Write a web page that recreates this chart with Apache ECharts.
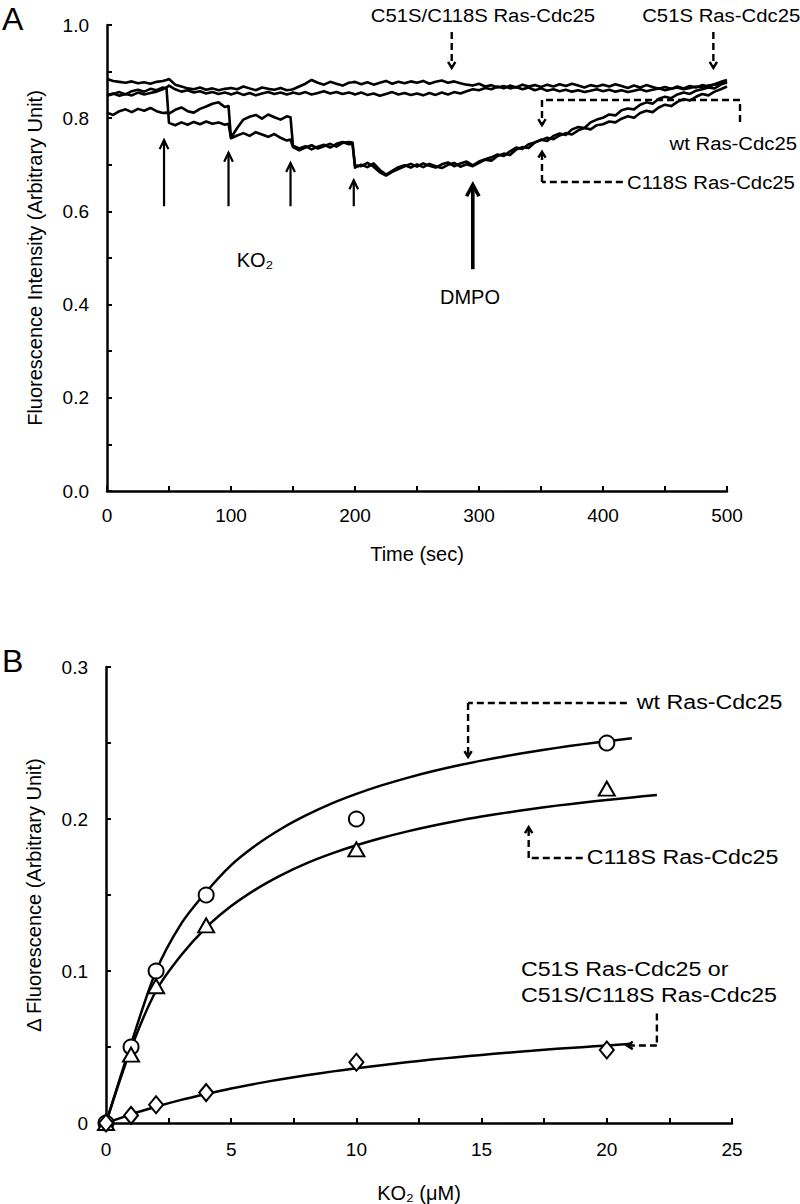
<!DOCTYPE html>
<html>
<head>
<meta charset="utf-8">
<script src="https://cdn.jsdelivr.net/npm/echarts@6/dist/echarts.min.js"></script>
<style>
html,body{margin:0;padding:0;background:#fff;}
#chart{width:800px;height:1204px;}
</style>
</head>
<body>
<div id="chart"></div>
<script>
// ---------------- Panel A data (time in s, fluorescence in arbitrary units) ----------------
const timeA = [0,5,10,15,20,25,30,35,40,45,48,50,55,60,65,70,75,80,85,90,95,98,
  100,105,110,115,120,125,130,135,140,145,148,150,155,160,165,170,175,180,185,190,195,198,
  200,205,210,215,220,225,230,235,240,245,250,255,260,265,270,275,280,285,290,295,
  300,305,310,315,320,325,330,335,340,345,350,355,360,365,370,375,380,385,390,395,
  400,405,410,415,420,425,430,435,440,445,450,455,460,465,470,475,480,485,490,495,500];

const c51sC118sA = [0.884,0.880,0.878,0.876,0.879,0.875,0.877,0.874,0.878,0.880,0.882,
  0.884,0.872,0.868,0.864,0.862,0.866,0.861,0.864,0.860,0.863,0.864,
  0.865,0.862,0.868,0.864,0.860,0.866,0.863,0.861,0.865,0.860,0.861,
  0.862,0.868,0.874,0.882,0.876,0.872,0.878,0.874,0.870,0.876,0.877,
  0.878,0.873,0.877,0.872,0.876,0.880,0.874,0.878,0.875,0.879,
  0.876,0.880,0.874,0.878,0.881,0.876,0.879,0.875,0.872,0.870,
  0.874,0.868,0.871,0.866,0.869,0.864,0.867,0.862,0.866,0.860,
  0.864,0.859,0.862,0.858,0.861,0.857,0.860,0.856,0.859,0.862,
  0.858,0.861,0.857,0.860,0.856,0.859,0.862,0.858,0.861,0.864,
  0.860,0.863,0.866,0.862,0.865,0.868,0.866,0.870,0.872,0.874,0.876];

const c51sA = [0.850,0.853,0.848,0.852,0.849,0.855,0.851,0.854,0.857,0.862,0.866,
  0.870,0.862,0.857,0.860,0.855,0.858,0.853,0.856,0.852,0.855,0.853,
  0.851,0.855,0.850,0.854,0.849,0.853,0.856,0.852,0.855,0.851,0.853,
  0.855,0.852,0.856,0.851,0.854,0.858,0.853,0.856,0.852,0.855,0.853,
  0.851,0.855,0.850,0.853,0.848,0.852,0.856,0.851,0.854,0.850,
  0.853,0.849,0.854,0.850,0.855,0.851,0.856,0.853,0.858,0.862,
  0.860,0.865,0.862,0.868,0.864,0.870,0.866,0.872,0.868,0.871,
  0.867,0.872,0.868,0.873,0.869,0.874,0.870,0.866,0.871,0.868,
  0.872,0.868,0.873,0.869,0.865,0.870,0.866,0.871,0.867,0.863,
  0.867,0.863,0.868,0.864,0.869,0.866,0.871,0.868,0.873,0.878,0.882];

const wtA = [0.848,0.852,0.856,0.851,0.858,0.861,0.857,0.863,0.860,0.866,0.864,
  0.790,0.785,0.791,0.786,0.792,0.787,0.793,0.788,0.791,0.786,0.788,
  0.757,0.763,0.768,0.762,0.770,0.765,0.760,0.766,0.758,0.752,0.754,
  0.738,0.731,0.737,0.742,0.735,0.740,0.745,0.739,0.747,0.749,0.748,
  0.694,0.700,0.695,0.703,0.689,0.679,0.687,0.695,0.699,0.694,
  0.701,0.695,0.702,0.697,0.693,0.700,0.704,0.696,0.701,0.697,
  0.704,0.711,0.709,0.719,0.724,0.721,0.733,0.738,0.736,0.748,
  0.754,0.751,0.762,0.767,0.764,0.776,0.781,0.779,0.791,0.797,
  0.801,0.808,0.806,0.817,0.821,0.819,0.829,0.834,0.831,0.842,
  0.846,0.843,0.851,0.855,0.852,0.859,0.862,0.866,0.864,0.872,0.878];

const c118sA = [0.812,0.807,0.815,0.819,0.813,0.820,0.816,0.822,0.815,0.811,0.812,
  0.810,0.818,0.823,0.815,0.812,0.820,0.825,0.831,0.834,0.824,0.826,
  0.758,0.779,0.797,0.803,0.807,0.799,0.808,0.802,0.797,0.804,0.802,
  0.741,0.735,0.740,0.733,0.739,0.743,0.737,0.745,0.749,0.744,0.745,
  0.699,0.697,0.704,0.696,0.684,0.677,0.685,0.691,0.697,0.702,
  0.696,0.703,0.698,0.694,0.701,0.705,0.697,0.703,0.707,0.699,
  0.707,0.712,0.716,0.722,0.719,0.729,0.737,0.734,0.744,0.748,
  0.753,0.758,0.755,0.763,0.768,0.765,0.774,0.779,0.776,0.785,
  0.787,0.793,0.791,0.799,0.804,0.801,0.811,0.816,0.813,0.823,
  0.829,0.826,0.835,0.841,0.838,0.846,0.852,0.849,0.857,0.862,0.868];

// KO2 addition arrows and DMPO arrow: [t, fromValue, t, toValue]
const ko2Arrows = [[46,0.611,46,0.753],[98,0.611,98,0.726],[148,0.611,148,0.704],[199,0.611,199,0.667]];
const dmpoArrows = [[295,0.476,295,0.657]];
// dashed leader paths (last point = arrow tip)
const leaderPathsA = [
  [[278,0.985],[278,0.908]],
  [[489,0.985],[489,0.908]],
  [[510.5,0.792],[510.5,0.839],[350.8,0.839],[350.8,0.785]],
  [[416,0.663],[350.8,0.663],[350.8,0.728]]
];
const labelTextA = ['C51S/C118S Ras-Cdc25','C51S Ras-Cdc25','wt Ras-Cdc25','C118S Ras-Cdc25'];
const labelPosA = [[212.7,1.021],[431.6,1.021],[556.5,0.747],[419.4,0.663]];
const labelAlignA = ['left','left','right','left'];
const noteTextA = ['KO₂','DMPO'];
const notePosA = [[119.4,0.496],[292.7,0.416]];

// ---------------- Panel B data (KO2 in µM, Δ fluorescence) ----------------
const ko2B = [0,1,2,4,10,20];
const wtB = [0,0.050,0.100,0.150,0.200,0.250];
const c118sB = [0,0.045,0.090,0.130,0.180,0.220];
const c51sB = [0,0.005,0.012,0.020,0.040,0.048];

// fitted curves
const fitWtX = [0,1,2,3,4,5,6,7,8,9,10,11,12,13,14,15,16,17,18,19,20,21];
const fitWtY = [0,0.052,0.100,0.131,0.152,0.1697,0.1829,0.1936,0.2025,0.2101,0.2165,0.2221,0.2269,0.2312,0.2350,0.2384,0.2415,0.2443,0.2468,0.2491,0.2512,0.2531];
const fitC118sX = [0,1,2,3,4,5,6,7,8,9,10,11,12,13,14,15,16,17,18,19,20,21,22];
const fitC118sY = [0,0.049,0.087,0.1104,0.1286,0.1427,0.1539,0.1631,0.1708,0.1772,0.1827,0.1875,0.1917,0.1954,0.1987,0.2016,0.2042,0.2066,0.2088,0.2107,0.2125,0.2142,0.2158];
const fitC51sX = [0,1,2,3,4,5,6,7,8,9,10,11,12,13,14,15,16,17,18,19,20,21];
const fitC51sY = [0,0.0057,0.0107,0.0152,0.0191,0.0227,0.0259,0.0288,0.0314,0.0338,0.0360,0.0380,0.0399,0.0417,0.0433,0.0448,0.0462,0.0475,0.0488,0.0499,0.0510,0.0521];

const leaderPathsB = [
  [[20.8,0.2763],[14.46,0.2763],[14.46,0.2408]],
  [[19.04,0.1743],[16.88,0.1743],[16.88,0.1947]],
  [[22.0,0.072],[22.0,0.051],[20.8,0.051]]
];
const labelTextB = ['wt Ras-Cdc25','C118S Ras-Cdc25','C51S Ras-Cdc25 or','C51S/C118S Ras-Cdc25'];
const labelPosB = [[21.2,0.2763],[19.2,0.1743],[16.57,0.1007],[16.57,0.084]];

// ---------------- helpers ----------------
const FONT = '"Liberation Sans", Arial, Helvetica, sans-serif';
const zip = (xs, ys) => xs.map((x, i) => [x, ys[i]]);
function pathsToSegments(paths) {
  const segs = [];
  paths.forEach(p => {
    for (let i = 0; i < p.length - 1; i++) {
      segs.push([p[i][0], p[i][1], p[i + 1][0], p[i + 1][1], i === p.length - 2 ? 1 : 0]);
    }
  });
  return segs;
}
function arrowRenderer(width, dash, arm, spread) {
  return function (params, api) {
    const a = api.coord([api.value(0), api.value(1)]);
    const b = api.coord([api.value(2), api.value(3)]);
    const kids = [{type: 'line', shape: {x1: a[0], y1: a[1], x2: b[0], y2: b[1]},
      style: {stroke: '#000', lineWidth: width, lineDash: dash, fill: null}}];
    if (api.value(4)) {
      const dx = b[0] - a[0], dy = b[1] - a[1], L = Math.hypot(dx, dy) || 1;
      const ux = dx / L, uy = dy / L, c = Math.cos(spread), s = Math.sin(spread);
      const p1 = [b[0] - arm * (ux * c - uy * s), b[1] - arm * (uy * c + ux * s)];
      const p2 = [b[0] - arm * (ux * c + uy * s), b[1] - arm * (uy * c - ux * s)];
      kids.push({type: 'polyline', shape: {points: [p1, b, p2]},
        style: {stroke: '#000', lineWidth: width, fill: null}});
    }
    return {type: 'group', children: kids};
  };
}
function textRenderer(texts, aligns, fontSize, scaleX) {
  return function (params, api) {
    const p = api.coord([api.value(0), api.value(1)]);
    const al = aligns ? aligns[params.dataIndex] : 'center';
    return {type: 'text', x: p[0], y: p[1], scaleX: scaleX, scaleY: 1,
      style: {text: texts[params.dataIndex], fontSize: fontSize, fontFamily: FONT, fill: '#000',
        align: al, verticalAlign: 'middle', textAlign: al, textVerticalAlign: 'middle'}};
  };
}
function axisCommon() {
  return {
    axisLine: {show: true, onZero: false, lineStyle: {color: '#000', width: 2.5}},
    axisTick: {show: true, inside: true, length: 5, lineStyle: {color: '#000', width: 2}},
    splitLine: {show: false},
    axisLabel: {color: '#000', fontSize: 19, fontFamily: FONT},
    nameLocation: 'middle',
    nameTextStyle: {color: '#000', fontSize: 20, fontFamily: FONT}
  };
}

const xA = Object.assign(axisCommon(), {type: 'value', gridIndex: 0, min: 0, max: 500, interval: 50,
  name: 'Time (sec)', nameGap: 53});
xA.axisLabel = Object.assign(xA.axisLabel, {margin: 15, formatter: v => (Math.round(v) % 100 === 0 ? String(Math.round(v)) : '')});
const yA = Object.assign(axisCommon(), {type: 'value', gridIndex: 0, min: 0, max: 1, interval: 0.1,
  name: 'Fluorescence Intensity (Arbitrary Unit)', nameGap: 62});
yA.axisLabel = Object.assign(yA.axisLabel, {margin: 18, formatter: v => (Math.round(v * 10) % 2 === 0 ? v.toFixed(1) : '')});
const xB = Object.assign(axisCommon(), {type: 'value', gridIndex: 1, min: 0, max: 25, interval: 2.5,
  name: 'KO₂ (μM)', nameGap: 60});
xB.axisLabel = Object.assign(xB.axisLabel, {margin: 17, formatter: v => (Math.round(v / 2.5) % 2 === 0 ? String(Math.round(v)) : '')});
const yB = Object.assign(axisCommon(), {type: 'value', gridIndex: 1, min: 0, max: 0.3, interval: 0.05,
  name: 'Δ Fluorescence (Arbitrary Unit)', nameGap: 62});
yB.axisLabel = Object.assign(yB.axisLabel, {margin: 18, formatter: v => {
  const k = Math.round(v * 20); if (k % 2 !== 0) return ''; return k === 0 ? '0' : (k / 20).toFixed(1); }});

function traceSeries(name, vals) {
  return {type: 'line', name: name, xAxisIndex: 0, yAxisIndex: 0, data: zip(timeA, vals),
    showSymbol: false, symbol: 'none', lineStyle: {color: '#000', width: 2.6, join: 'round'}, z: 3, silent: true};
}
function fitSeries(name, xs, ys) {
  return {type: 'line', name: name, xAxisIndex: 1, yAxisIndex: 1, data: zip(xs, ys), smooth: 0.3,
    showSymbol: false, symbol: 'none', lineStyle: {color: '#000', width: 2.5}, z: 3, silent: true};
}
function pointSeries(name, ys, symbol, size) {
  return {type: 'scatter', name: name, xAxisIndex: 1, yAxisIndex: 1, data: zip(ko2B, ys), symbol: symbol,
    symbolSize: size, clip: false, itemStyle: {color: '#fff', borderColor: '#000', borderWidth: 2, opacity: 1}, z: 6, silent: true};
}

const chart = echarts.init(document.getElementById('chart'), null, {renderer: 'svg', width: 800, height: 1204});
chart.setOption({
  animation: false,
  backgroundColor: '#fff',
  title: [
    {text: 'A', left: 2, top: 3, padding: 0, textStyle: {fontSize: 32, fontWeight: 'normal', fontFamily: FONT, color: '#000'}},
    {text: 'B', left: 2, top: 645, padding: 0, textStyle: {fontSize: 32, fontWeight: 'normal', fontFamily: FONT, color: '#000'}}
  ],
  grid: [
    {left: 107, top: 25, width: 620, height: 466},
    {left: 106, top: 667, width: 626, height: 456}
  ],
  xAxis: [xA, xB],
  yAxis: [yA, yB],
  series: [
    traceSeries('C51S/C118S Ras-Cdc25', c51sC118sA),
    traceSeries('C51S Ras-Cdc25', c51sA),
    traceSeries('wt Ras-Cdc25', wtA),
    traceSeries('C118S Ras-Cdc25', c118sA),
    {type: 'custom', name: 'KO2 arrows', xAxisIndex: 0, yAxisIndex: 0, clip: false, silent: true, z: 5,
      data: ko2Arrows.map(a => a.concat([1])), encode: {x: [0, 2], y: [1, 3]}, renderItem: arrowRenderer(2.2, null, 10, 0.45)},
    {type: 'custom', name: 'DMPO arrow', xAxisIndex: 0, yAxisIndex: 0, clip: false, silent: true, z: 5,
      data: dmpoArrows.map(a => a.concat([1])), encode: {x: [0, 2], y: [1, 3]}, renderItem: arrowRenderer(3.6, null, 13, 0.5)},
    {type: 'custom', name: 'leaders A', xAxisIndex: 0, yAxisIndex: 0, clip: false, silent: true, z: 5,
      data: pathsToSegments(leaderPathsA), encode: {x: [0, 2], y: [1, 3]}, renderItem: arrowRenderer(2.4, [7, 4], 7, 0.55)},
    {type: 'custom', name: 'labels A', xAxisIndex: 0, yAxisIndex: 0, clip: false, silent: true, z: 7,
      data: labelPosA, encode: {x: 0, y: 1}, renderItem: textRenderer(labelTextA, labelAlignA, 19, 1.07)},
    {type: 'custom', name: 'notes A', xAxisIndex: 0, yAxisIndex: 0, clip: false, silent: true, z: 7,
      data: notePosA, encode: {x: 0, y: 1}, renderItem: textRenderer(noteTextA, null, 20, 1)},

    fitSeries('wt fit', fitWtX, fitWtY),
    fitSeries('C118S fit', fitC118sX, fitC118sY),
    fitSeries('C51S fit', fitC51sX, fitC51sY),
    pointSeries('wt Ras-Cdc25', wtB, 'circle', 15),
    pointSeries('C118S Ras-Cdc25', c118sB, 'triangle', [16, 14]),
    pointSeries('C51S Ras-Cdc25', c51sB, 'diamond', [14, 17]),
    {type: 'custom', name: 'leaders B', xAxisIndex: 1, yAxisIndex: 1, clip: false, silent: true, z: 5,
      data: pathsToSegments(leaderPathsB), encode: {x: [0, 2], y: [1, 3]}, renderItem: arrowRenderer(2.4, [7, 4], 7, 0.55)},
    {type: 'custom', name: 'labels B', xAxisIndex: 1, yAxisIndex: 1, clip: false, silent: true, z: 7,
      data: labelPosB, encode: {x: 0, y: 1}, renderItem: textRenderer(labelTextB, ['left','left','left','left'], 19.5, 1.19)}
  ]
});
</script>
</body>
</html>
